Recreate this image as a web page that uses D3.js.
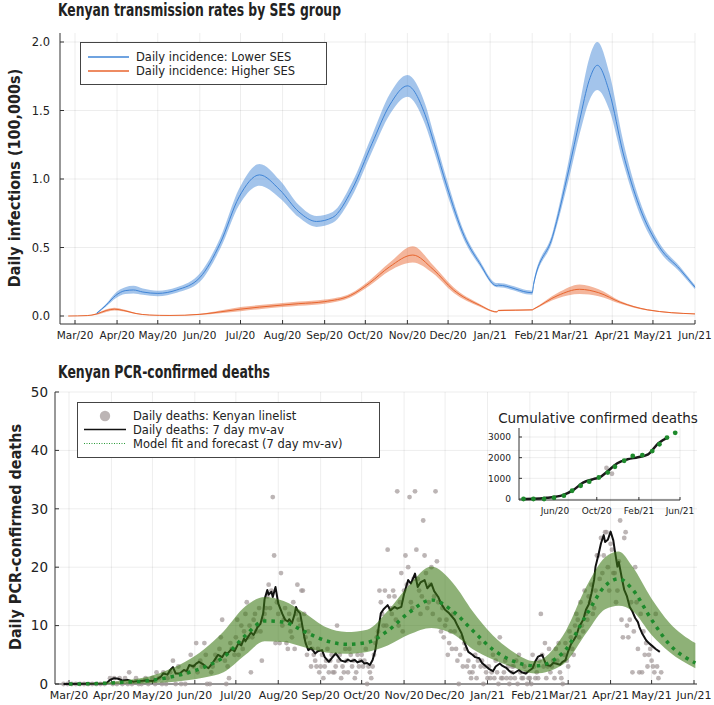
<!DOCTYPE html>
<html>
<head>
<meta charset="utf-8">
<script src="https://cdn.jsdelivr.net/npm/d3@7"></script>
<style>
body { margin: 0; background: #fff; }
svg text { font-family: "DejaVu Sans", sans-serif; fill: #222; }
.ttl { font-family: "Liberation Sans Narrow", "DejaVu Sans Condensed", "Roboto Condensed", sans-serif; font-weight: bold; font-stretch: condensed; }
</style>
</head>
<body>
<svg id="chart" width="714" height="705"></svg>
<script>
// ---- top panel: daily incidence by SES group (100,000s)
const lowDates = ["2020-03-17","2020-03-24","2020-03-31","2020-04-07","2020-04-13","2020-04-20","2020-05-01","2020-05-15","2020-06-01","2020-06-16","2020-06-30","2020-07-15","2020-07-30","2020-08-13","2020-08-26","2020-09-07","2020-09-21","2020-10-06","2020-10-19","2020-11-01","2020-11-14","2020-11-21","2020-11-30","2020-12-13","2020-12-24","2021-01-06","2021-01-07","2021-02-01","2021-02-02","2021-02-16","2021-02-28","2021-03-08","2021-03-15","2021-03-21","2021-03-30","2021-04-09","2021-04-21","2021-05-06","2021-05-21","2021-06-01"];
const lowMid = [0.02,0.08,0.15,0.185,0.19,0.175,0.165,0.19,0.28,0.53,0.87,1.03,0.92,0.76,0.69,0.72,0.92,1.26,1.54,1.68,1.47,1.25,0.95,0.58,0.39,0.22,0.225,0.17,0.23,0.58,1.07,1.43,1.72,1.83,1.63,1.19,0.80,0.50,0.34,0.21];
const lowLo  = [0.015,0.07,0.13,0.16,0.165,0.155,0.145,0.17,0.25,0.49,0.81,0.95,0.86,0.72,0.65,0.68,0.87,1.20,1.47,1.60,1.40,1.19,0.90,0.55,0.37,0.21,0.21,0.155,0.21,0.55,1.00,1.33,1.57,1.65,1.50,1.12,0.75,0.47,0.32,0.195];
const lowHi  = [0.025,0.09,0.17,0.21,0.22,0.20,0.185,0.21,0.31,0.57,0.93,1.11,0.99,0.81,0.73,0.76,0.97,1.32,1.62,1.76,1.55,1.31,1.00,0.61,0.41,0.24,0.24,0.185,0.25,0.61,1.14,1.55,1.88,2.00,1.77,1.28,0.85,0.53,0.36,0.225];

const highDates = ["2020-02-25","2020-03-10","2020-03-17","2020-03-24","2020-03-30","2020-04-06","2020-04-15","2020-04-25","2020-05-10","2020-06-01","2020-06-16","2020-07-01","2020-07-15","2020-08-01","2020-08-13","2020-09-01","2020-09-20","2020-10-04","2020-10-19","2020-11-05","2020-11-20","2020-12-05","2020-12-24","2021-01-06","2021-01-07","2021-02-01","2021-02-02","2021-02-20","2021-03-08","2021-03-22","2021-04-07","2021-04-27","2021-06-01"];
const highMid = [0,0.003,0.015,0.04,0.05,0.04,0.018,0.007,0.004,0.012,0.03,0.05,0.065,0.08,0.09,0.105,0.15,0.24,0.36,0.445,0.34,0.19,0.08,0.03,0.04,0.045,0.05,0.15,0.195,0.17,0.10,0.045,0.015];
const highLo  = [0,0.002,0.01,0.03,0.04,0.033,0.014,0.005,0.003,0.008,0.02,0.035,0.05,0.065,0.075,0.09,0.135,0.22,0.33,0.39,0.31,0.17,0.07,0.025,0.035,0.04,0.045,0.13,0.16,0.145,0.09,0.04,0.012];
const highHi  = [0,0.004,0.02,0.05,0.06,0.047,0.022,0.009,0.005,0.016,0.04,0.065,0.08,0.095,0.105,0.12,0.165,0.26,0.39,0.51,0.37,0.21,0.09,0.035,0.045,0.05,0.055,0.17,0.23,0.195,0.11,0.05,0.018];

const topYTicks = [0, 0.5, 1.0, 1.5, 2.0];

// ---- bottom panel: PCR-confirmed deaths (linelist points)
const deathDates = ["2020-02-26","2020-02-29","2020-03-03","2020-03-06","2020-03-09","2020-03-12","2020-03-15","2020-03-18","2020-03-21","2020-03-24","2020-03-27","2020-03-31","2020-04-02","2020-04-03","2020-04-05","2020-04-07","2020-04-09","2020-04-11","2020-04-13","2020-04-14","2020-04-16","2020-04-19","2020-04-21","2020-04-23","2020-04-26","2020-04-28","2020-05-01","2020-05-03","2020-05-04","2020-05-06","2020-05-08","2020-05-09","2020-05-11","2020-05-12","2020-05-14","2020-05-16","2020-05-18","2020-05-20","2020-05-22","2020-05-25","2020-05-27","2020-05-29","2020-05-31","2020-06-02","2020-06-03","2020-06-05","2020-06-08","2020-06-10","2020-06-12","2020-06-14","2020-06-16","2020-06-19","2020-06-21","2020-06-23","2020-06-24","2020-06-26","2020-06-28","2020-07-01","2020-07-03","2020-07-05","2020-07-07","2020-07-09","2020-07-10","2020-07-12","2020-07-14","2020-07-16","2020-07-18","2020-07-20","2020-07-22","2020-07-24","2020-07-25","2020-07-27","2020-07-28","2020-07-29","2020-07-30","2020-07-31","2020-08-02","2020-08-03","2020-08-05","2020-08-07","2020-08-08","2020-08-10","2020-08-12","2020-08-13","2020-08-14","2020-08-15","2020-08-17","2020-08-18","2020-08-19","2020-08-21","2020-08-22","2020-08-24","2020-08-26","2020-08-28","2020-08-29","2020-08-31","2020-09-02","2020-09-04","2020-09-06","2020-09-08","2020-09-10","2020-09-11","2020-09-13","2020-09-15","2020-09-16","2020-09-18","2020-09-20","2020-09-22","2020-09-24","2020-09-26","2020-09-28","2020-09-30","2020-10-02","2020-10-04","2020-10-05","2020-10-07","2020-10-09","2020-10-11","2020-10-13","2020-10-14","2020-10-16","2020-10-18","2020-10-19","2020-10-20","2020-10-21","2020-10-22","2020-10-24","2020-10-26","2020-10-27","2020-10-29","2020-10-31","2020-11-02","2020-11-03","2020-11-05","2020-11-07","2020-11-08","2020-11-09","2020-11-10","2020-11-12","2020-11-13","2020-11-15","2020-11-17","2020-11-19","2020-11-21","2020-11-23","2020-11-24","2020-11-25","2020-11-27","2020-11-29","2020-12-01","2020-12-03","2020-12-05","2020-12-07","2020-12-09","2020-12-11","2020-12-13","2020-12-15","2020-12-17","2020-12-18","2020-12-20","2020-12-21","2020-12-23","2020-12-26","2020-12-27","2020-12-28","2020-12-31","2021-01-01","2021-01-02","2021-01-03","2021-01-05","2021-01-06","2021-01-08","2021-01-10","2021-01-11","2021-01-12","2021-01-14","2021-01-15","2021-01-17","2021-01-18","2021-01-19","2021-01-20","2021-01-21","2021-01-23","2021-01-24","2021-01-26","2021-01-27","2021-01-28","2021-01-30","2021-01-31","2021-02-01","2021-02-03","2021-02-05","2021-02-07","2021-02-09","2021-02-10","2021-02-11","2021-02-13","2021-02-14","2021-02-16","2021-02-18","2021-02-20","2021-02-22","2021-02-24","2021-02-25","2021-02-26","2021-02-27","2021-02-28","2021-03-02","2021-03-04","2021-03-06","2021-03-08","2021-03-10","2021-03-12","2021-03-14","2021-03-16","2021-03-18","2021-03-20","2021-03-22","2021-03-23","2021-03-24","2021-03-25","2021-03-26","2021-03-27","2021-03-28","2021-03-29","2021-03-29","2021-03-30","2021-04-01","2021-04-02","2021-04-02","2021-04-03","2021-04-04","2021-04-06","2021-04-08","2021-04-09","2021-04-10","2021-04-11","2021-04-12","2021-04-14","2021-04-15","2021-04-17","2021-04-19","2021-04-20","2021-04-22","2021-04-24","2021-04-25","2021-04-27","2021-04-29","2021-05-01","2021-05-02","2021-05-03","2021-05-04","2021-05-05","2021-05-06","2021-05-08"];
const deathCounts = [0,0,0,0,0,0,0,0,0,0,0,1,0,1,0,1,0,1,0,2,0,1,0,0,1,0,1,0,2,1,0,2,0,1,2,4,0,3,0,0,2,5,3,7,2,4,7,0,0,3,5,6,11,4,0,1,6,8,5,10,9,14,8,2,11,9,13,4,12,15,17,16,32,22,7,14,7,19,11,7,6,9,14,6,12,17,10,16,16,8,5,7,6,4,3,2,5,3,6,4,2,2,10,5,1,2,4,6,3,1,5,4,3,6,0,2,3,7,9,16,12,16,10,23,15,13,16,11,33,14,9,22,17,32,13,18,33,23,16,12,28,19,14,20,15,33,21,11,13,10,5,9,12,6,0,8,7,3,4,1,2,5,7,3,4,2,1,3,1,5,1,2,8,1,1,4,1,0,1,3,3,1,0,5,1,1,3,0,1,1,5,1,1,12,5,3,1,3,2,4,6,7,1,0,5,7,4,9,6,10,11,14,9,12,15,17,13,22,22,18,25,19,22,26,26,37,20,24,23,36,19,19,16,28,11,8,25,26,8,11,2,20,14,2,2,9,7,5,4,3,2,12,3,1,2];
const moreDeathDates = ["2020-06-06","2020-06-09","2020-06-13","2020-06-17","2020-06-20","2020-06-25","2020-06-27","2020-06-30","2020-07-02","2020-07-04","2020-07-06","2020-07-08","2020-07-11","2020-07-13","2020-07-15","2020-07-17","2020-07-19","2020-07-21","2020-07-23","2020-07-26","2020-08-01","2020-08-04","2020-08-06","2020-08-09","2020-08-11","2020-08-16","2020-08-20","2020-08-23","2020-08-25","2020-08-27","2020-08-30","2020-09-01","2020-09-03","2020-09-05","2020-09-07","2020-09-09","2020-09-12","2020-09-14","2020-09-17","2020-09-19","2020-09-21","2020-09-23","2020-09-25","2020-09-27","2020-09-29","2020-10-01","2020-10-03","2020-10-06","2020-10-08","2020-10-10","2020-10-12","2020-10-15","2020-10-17","2020-10-23","2020-10-25","2020-10-28","2020-10-30","2020-11-01","2020-11-04","2020-11-06","2020-11-11","2020-11-14","2020-11-16","2020-11-18","2020-11-20","2020-11-22","2020-11-26","2020-11-28","2020-11-30","2020-12-02","2020-12-04","2020-12-06","2020-12-08","2020-12-10","2020-12-12","2020-12-14","2020-12-16","2020-12-19","2020-12-22","2020-12-24","2020-12-25","2020-12-29","2020-12-30","2021-01-04","2021-01-07","2021-01-09","2021-01-13","2021-01-16","2021-01-19","2021-01-22","2021-01-25","2021-01-29","2021-02-02","2021-02-04","2021-02-06","2021-02-08","2021-02-12","2021-02-15","2021-02-17","2021-02-19","2021-02-21","2021-02-23","2021-03-01","2021-03-03","2021-03-05","2021-03-07","2021-03-09","2021-03-11","2021-03-13","2021-03-15","2021-03-17","2021-03-19","2021-03-21","2021-03-31","2021-04-05","2021-04-07","2021-04-13","2021-04-16","2021-04-18","2021-04-21","2021-04-23","2021-04-26","2021-04-28","2021-04-30"];
const moreDeathCounts = [3,5,2,4,8,3,7,5,11,7,6,12,10,8,12,10,9,11,13,13,12,10,13,12,8,11,12,9,3,5,6,3,1,4,2,5,3,4,3,6,2,5,4,2,3,5,4,3,1,5,8,14,10,12,15,10,19,16,20,14,18,15,22,13,17,12,14,9,8,11,7,6,9,4,5,3,6,2,3,1,4,0,3,2,4,0,2,3,2,4,2,2,0,3,2,4,7,6,3,1,4,2,3,8,5,12,8,10,16,11,14,12,16,16,14,21,10,14,9,6,12,5,3,6];

// 7 day moving average of the linelist
const avgDates = ["2020-02-26","2020-03-28","2020-03-31","2020-04-03","2020-04-06","2020-04-09","2020-04-13","2020-04-17","2020-04-21","2020-04-26","2020-05-01","2020-05-04","2020-05-07","2020-05-09","2020-05-12","2020-05-14","2020-05-16","2020-05-18","2020-05-21","2020-05-24","2020-05-26","2020-05-28","2020-05-31","2020-06-02","2020-06-04","2020-06-07","2020-06-09","2020-06-11","2020-06-14","2020-06-16","2020-06-18","2020-06-21","2020-06-23","2020-06-25","2020-06-28","2020-06-30","2020-07-03","2020-07-05","2020-07-07","2020-07-08","2020-07-10","2020-07-12","2020-07-14","2020-07-17","2020-07-19","2020-07-21","2020-07-22","2020-07-24","2020-07-25","2020-07-27","2020-07-28","2020-07-30","2020-08-01","2020-08-03","2020-08-04","2020-08-06","2020-08-08","2020-08-09","2020-08-11","2020-08-13","2020-08-14","2020-08-15","2020-08-17","2020-08-18","2020-08-20","2020-08-21","2020-08-23","2020-08-25","2020-08-28","2020-08-30","2020-09-02","2020-09-04","2020-09-07","2020-09-09","2020-09-12","2020-09-14","2020-09-16","2020-09-19","2020-09-21","2020-09-23","2020-09-26","2020-09-28","2020-10-01","2020-10-03","2020-10-05","2020-10-07","2020-10-09","2020-10-11","2020-10-13","2020-10-15","2020-10-17","2020-10-20","2020-10-22","2020-10-25","2020-10-27","2020-10-30","2020-11-01","2020-11-04","2020-11-06","2020-11-09","2020-11-11","2020-11-13","2020-11-16","2020-11-18","2020-11-21","2020-11-23","2020-11-26","2020-11-28","2020-12-01","2020-12-04","2020-12-08","2020-12-10","2020-12-13","2020-12-15","2020-12-18","2020-12-21","2020-12-23","2020-12-26","2020-12-28","2020-12-31","2021-01-02","2021-01-05","2021-01-07","2021-01-10","2021-01-12","2021-01-15","2021-01-17","2021-01-20","2021-01-22","2021-01-24","2021-01-26","2021-01-29","2021-01-31","2021-02-03","2021-02-05","2021-02-07","2021-02-10","2021-02-13","2021-02-16","2021-02-18","2021-02-20","2021-02-23","2021-02-25","2021-02-27","2021-03-01","2021-03-03","2021-03-05","2021-03-07","2021-03-09","2021-03-12","2021-03-14","2021-03-16","2021-03-18","2021-03-20","2021-03-21","2021-03-23","2021-03-25","2021-03-27","2021-03-28","2021-03-30","2021-04-01","2021-04-03","2021-04-04","2021-04-06","2021-04-07","2021-04-09","2021-04-11","2021-04-13","2021-04-15","2021-04-17","2021-04-19","2021-04-21","2021-04-22","2021-04-24","2021-04-27","2021-04-29","2021-05-02","2021-05-04","2021-05-07"];
const avgValues = [0,0.1,0.7,1.0,0.9,0.6,0.7,0.4,0.5,0.6,0.5,0.8,1.2,1.8,1.6,2.4,2.9,1.8,1.8,2.4,2.2,3.25,3.0,3.5,3.8,3.4,3.0,2.7,3.6,4.3,5.0,4.6,5.4,5.25,6.0,5.6,7.0,6.6,7.8,7.3,8.1,8.8,8.4,9.8,10.3,12.1,14.5,16.1,15.3,15.8,14.9,16.6,13.8,12.6,12.0,11.0,10.7,11.1,10.4,12.0,13.2,12.6,12.1,10.8,8.1,7.0,5.8,6.2,5.25,5.6,5.8,4.6,3.8,4.4,5.25,4.6,4.0,3.8,4.2,3.9,4.1,3.7,4.0,3.5,3.6,3.25,4.1,5.8,9.0,12.1,12.8,13.5,12.6,13.2,12.9,13.2,15.4,17.8,17.2,18.9,16.6,17.4,17.8,16.4,17.2,15.9,14.9,13.8,12.7,12.1,11.0,10.0,8.7,7.2,5.5,5.0,4.6,4.4,3.6,3.0,2.6,2.2,3.0,3.5,3.1,2.7,2.2,1.8,2.1,2.4,2.0,1.8,2.2,2.7,3.9,4.7,5.0,3.25,3.1,3.6,3.5,3.3,3.8,4.1,5.6,6.8,7.5,8.3,9.8,11.0,12.7,13.6,15.5,17.9,20.1,22.0,24.1,25.5,24.3,24.7,26.1,24.6,23.0,20.1,20.9,18.4,16.1,15.0,13.2,12.4,11.3,10.6,9.8,8.7,7.5,7.0,6.4,6.0,5.5];

// model fit and forecast (7 day mv-av) with credible band
const modelDates = ["2020-03-01","2020-03-25","2020-04-10","2020-04-25","2020-05-10","2020-05-25","2020-06-08","2020-06-22","2020-07-08","2020-07-22","2020-08-05","2020-08-20","2020-09-05","2020-09-20","2020-10-05","2020-10-20","2020-11-05","2020-11-21","2020-12-07","2020-12-21","2021-01-05","2021-01-18","2021-02-05","2021-02-25","2021-03-15","2021-03-28","2021-04-07","2021-04-17","2021-05-01","2021-05-14","2021-06-02"];
const modelLo  = [0,0,0.05,0.1,0.25,0.6,1.1,2.0,5.0,7.3,7.2,6.3,5.4,5.2,5.5,6.6,8.5,9.6,8.5,6.0,4.2,3.0,1.8,3.3,9.0,12.8,13.4,12.5,8.4,5.5,2.7];
const modelMid = [0,0.1,0.3,0.5,1.0,1.8,2.9,4.6,8.3,10.8,10.6,9.0,7.4,6.8,7.1,9.1,12.3,14.4,12.4,9.2,5.9,4.1,3.1,5.3,12.1,16.8,18.0,16.2,11.0,6.8,3.6];
const modelHi  = [0,0.2,0.6,1.1,2.2,3.8,6.0,9.0,13.3,14.9,14.2,12.2,9.7,8.9,9.3,12.5,17.0,20.1,17.2,12.5,8.3,5.8,3.9,8.2,17.0,21.7,22.7,20.1,14.6,10.5,7.0];

const botYTicks = [0, 10, 20, 30, 40, 50];

// ---- inset: cumulative confirmed deaths
const cumDates = ["2020-02-26","2020-04-01","2020-05-08","2020-06-24","2020-07-24","2020-08-22","2020-09-21","2020-10-11","2020-10-31","2020-11-30","2020-12-30","2021-01-29","2021-02-28","2021-03-30","2021-04-29"];
const cumValues = [0,10,60,190,430,790,960,1060,1320,1730,1920,2020,2160,2700,2990];
const cumModelDates = ["2020-03-01","2020-03-30","2020-04-30","2020-05-29","2020-06-27","2020-07-21","2020-08-15","2020-09-09","2020-10-07","2020-11-02","2020-11-23","2020-12-20","2021-01-14","2021-02-11","2021-03-12","2021-04-02","2021-04-24","2021-05-18"];
const cumModelValues = [0,0,0,60,160,400,640,840,1040,1280,1560,1850,2080,2120,2320,2650,2970,3200];
const insetYTicks = [0, 1000, 2000, 3000];
const insetXTicks = ["2020-06-01","2020-10-01","2021-02-01","2021-06-01"];

const parse = d3.timeParse("%Y-%m-%d");
const fmtMonth = d3.timeFormat("%b/%y");
const monthTicks = d3.timeMonth.range(parse("2020-03-01"), parse("2021-06-02"));

const blue = "#3f84d6", orange = "#e8652e";
const gridCol = "#000", gridOp = 0.07;

const svg = d3.select("#chart");
svg.append("rect").attr("width", 714).attr("height", 705).attr("fill", "#fff");

// helper: grid + axis frame with inward ticks
function frame(g, x, y, box, yTicks, yFmt, xFont, yFont, yLabelX) {
    monthTicks.forEach(t => {
        g.append("line").attr("x1", x(t)).attr("x2", x(t)).attr("y1", box.top).attr("y2", box.bottom)
            .attr("stroke", gridCol).attr("stroke-opacity", gridOp);
    });
    yTicks.forEach(v => {
        g.append("line").attr("x1", box.left).attr("x2", box.right).attr("y1", y(v)).attr("y2", y(v))
            .attr("stroke", gridCol).attr("stroke-opacity", gridOp);
    });
    g.append("line").attr("x1", box.left).attr("x2", box.left).attr("y1", box.top).attr("y2", box.bottom).attr("stroke", "#333");
    g.append("line").attr("x1", box.left).attr("x2", box.right).attr("y1", box.bottom).attr("y2", box.bottom).attr("stroke", "#333");
    monthTicks.forEach(t => {
        g.append("line").attr("x1", x(t)).attr("x2", x(t)).attr("y1", box.bottom).attr("y2", box.bottom - 4).attr("stroke", "#333");
        g.append("text").attr("x", x(t)).attr("y", box.bottom + 15).attr("text-anchor", "middle")
            .style("font-size", xFont + "px").text(fmtMonth(t));
    });
    yTicks.forEach(v => {
        g.append("line").attr("x1", box.left).attr("x2", box.left + 4).attr("y1", y(v)).attr("y2", y(v)).attr("stroke", "#333");
        g.append("text").attr("x", yLabelX).attr("y", y(v)).attr("dy", "0.36em").attr("text-anchor", "end")
            .style("font-size", yFont + "px").text(yFmt(v));
    });
}

// ===== TOP PANEL =====
const xTop = d3.scaleTime().domain([parse("2020-03-01"), parse("2021-06-01")]).range([75, 695]);
const yTop = d3.scaleLinear().domain([0, 2]).range([316, 42]);
const topBox = {left: 60, right: 695, top: 33, bottom: 324};
const gTop = svg.append("g");
frame(gTop, xTop, yTop, topBox, topYTicks, d3.format(".1f"), 10.5, 11.5, 50);

function series(dates, mid, lo, hi) {
    return dates.map((d, i) => ({date: parse(d), mid: mid[i], lo: lo[i], hi: hi[i]}));
}
const lowData = series(lowDates, lowMid, lowLo, lowHi);
const highData = series(highDates, highMid, highLo, highHi);

const topArea = d3.area().x(d => xTop(d.date)).y0(d => yTop(d.lo)).y1(d => yTop(d.hi)).curve(d3.curveMonotoneX);
const topLine = d3.line().x(d => xTop(d.date)).y(d => yTop(d.mid)).curve(d3.curveMonotoneX);

[[highData, orange], [lowData, blue]].forEach(([data, col]) => {
    gTop.append("path").datum(data).attr("d", topArea).attr("fill", col).attr("fill-opacity", 0.48);
    gTop.append("path").datum(data).attr("d", topLine).attr("fill", "none").attr("stroke", col).attr("stroke-width", 1);
});

// condensed bold titles: squeeze to the measured width
gTop.append("text").attr("class", "ttl").attr("x", 58).attr("y", 16).style("font-size", "17px")
    .attr("textLength", 283).attr("lengthAdjust", "spacingAndGlyphs").text("Kenyan transmission rates by SES group");
gTop.append("text").attr("class", "ttl").attr("transform", "translate(20,178) rotate(-90)").attr("text-anchor", "middle")
    .style("font-size", "16px").text("Daily infections (100,000s)");

// top legend
const legTop = gTop.append("g");
legTop.append("rect").attr("x", 80.5).attr("y", 42.5).attr("width", 246).attr("height", 42).attr("fill", "#fff").attr("stroke", "#444");
[["Daily incidence: Lower SES", blue, 57], ["Daily incidence: Higher SES", orange, 71]].forEach(([t, c, yy]) => {
    legTop.append("line").attr("x1", 88).attr("x2", 129).attr("y1", yy).attr("y2", yy).attr("stroke", c).attr("stroke-width", 1.5);
    legTop.append("text").attr("x", 136).attr("y", yy).attr("dy", "0.36em").style("font-size", "11.5px").text(t);
});

// ===== BOTTOM PANEL =====
const xBot = d3.scaleTime().domain([parse("2020-03-01"), parse("2021-06-01")]).range([69, 694]);
const yBot = d3.scaleLinear().domain([0, 50]).range([684, 392]);
const botBox = {left: 55, right: 697, top: 392, bottom: 684};
const gBot = svg.append("g");
frame(gBot, xBot, yBot, botBox, botYTicks, d3.format("d"), 11, 13.5, 48);

gBot.append("text").attr("class", "ttl").attr("x", 58).attr("y", 378).style("font-size", "17px")
    .attr("textLength", 212).attr("lengthAdjust", "spacingAndGlyphs").text("Kenyan PCR-confirmed deaths");
gBot.append("text").attr("class", "ttl").attr("transform", "translate(21,537) rotate(-90)").attr("text-anchor", "middle")
    .style("font-size", "16px").text("Daily PCR-confirmed deaths");

const deaths = deathDates.map((d, i) => ({date: parse(d), v: deathCounts[i]}))
    .concat(moreDeathDates.map((d, i) => ({date: parse(d), v: moreDeathCounts[i]})));
gBot.append("g").selectAll("circle").data(deaths).enter().append("circle")
    .attr("cx", d => xBot(d.date)).attr("cy", d => yBot(d.v)).attr("r", 2.4)
    .attr("fill", "rgb(160,150,150)").attr("fill-opacity", 0.7);

const avg = avgDates.map((d, i) => ({date: parse(d), v: avgValues[i]}));
gBot.append("path").datum(avg)
    .attr("d", d3.line().x(d => xBot(d.date)).y(d => yBot(d.v)))
    .attr("fill", "none").attr("stroke", "#111").attr("stroke-width", 2).attr("stroke-linejoin", "round");

const model = series(modelDates, modelMid, modelLo, modelHi);
gBot.append("path").datum(model)
    .attr("d", d3.area().x(d => xBot(d.date)).y0(d => yBot(d.lo)).y1(d => yBot(d.hi)).curve(d3.curveMonotoneX))
    .attr("fill", "rgb(60,120,20)").attr("fill-opacity", 0.58);
gBot.append("path").datum(model)
    .attr("d", d3.line().x(d => xBot(d.date)).y(d => yBot(d.mid)).curve(d3.curveMonotoneX))
    .attr("fill", "none").attr("stroke", "#1e8a2c").attr("stroke-width", 3.5).attr("stroke-dasharray", "3.5 5");

// bottom legend
const legBot = gBot.append("g");
legBot.append("rect").attr("x", 77.5).attr("y", 402.5).attr("width", 302).attr("height", 55).attr("fill", "#fff").attr("stroke", "#444");
legBot.append("circle").attr("cx", 105).attr("cy", 416).attr("r", 5.2).attr("fill", "rgb(160,150,150)").attr("fill-opacity", 0.7);
legBot.append("line").attr("x1", 84).attr("x2", 126).attr("y1", 429.5).attr("y2", 429.5).attr("stroke", "#111").attr("stroke-width", 1.5);
legBot.append("line").attr("x1", 84).attr("x2", 126).attr("y1", 443.5).attr("y2", 443.5).attr("stroke", "#2a9a38").attr("stroke-width", 1.2).attr("stroke-dasharray", "1 1.5");
[["Daily deaths: Kenyan linelist", 416], ["Daily deaths: 7 day mv-av", 429.5], ["Model fit and forecast (7 day mv-av)", 443.5]].forEach(([t, yy]) => {
    legBot.append("text").attr("x", 133).attr("y", yy).attr("dy", "0.36em").style("font-size", "11.5px").text(t);
});

// ===== INSET =====
const xIn = d3.scaleTime().domain([parse("2020-06-01"), parse("2021-06-01")]).range([555, 680]);
const yIn = d3.scaleLinear().domain([0, 3000]).range([499, 437]);
const gIn = svg.append("g");
gIn.append("text").attr("x", 598).attr("y", 423).attr("text-anchor", "middle").style("font-size", "13.5px").text("Cumulative confirmed deaths");
insetXTicks.forEach(s => {
    const t = parse(s);
    gIn.append("line").attr("x1", xIn(t)).attr("x2", xIn(t)).attr("y1", 428).attr("y2", 500).attr("stroke", gridCol).attr("stroke-opacity", gridOp);
    gIn.append("line").attr("x1", xIn(t)).attr("x2", xIn(t)).attr("y1", 500).attr("y2", 497).attr("stroke", "#333");
    gIn.append("text").attr("x", xIn(t)).attr("y", 514).attr("text-anchor", "middle").style("font-size", "9px").text(fmtMonth(t));
});
insetYTicks.forEach(v => {
    gIn.append("line").attr("x1", 519).attr("x2", 680).attr("y1", yIn(v)).attr("y2", yIn(v)).attr("stroke", gridCol).attr("stroke-opacity", gridOp);
    gIn.append("line").attr("x1", 519).attr("x2", 522).attr("y1", yIn(v)).attr("y2", yIn(v)).attr("stroke", "#333");
    gIn.append("text").attr("x", 511).attr("y", yIn(v)).attr("dy", "0.36em").attr("text-anchor", "end").style("font-size", "9px").text(v);
});
gIn.append("line").attr("x1", 519).attr("x2", 519).attr("y1", 428).attr("y2", 500).attr("stroke", "#333");
gIn.append("line").attr("x1", 519).attr("x2", 680).attr("y1", 500).attr("y2", 500).attr("stroke", "#333");

const cum = cumDates.map((d, i) => ({date: parse(d), v: cumValues[i]}));
gIn.append("path").datum(cum)
    .attr("d", d3.line().x(d => xIn(d.date)).y(d => yIn(d.v)).curve(d3.curveMonotoneX))
    .attr("fill", "none").attr("stroke", "#1a1a1a").attr("stroke-width", 2.5);
const cumModel = cumModelDates.map((d, i) => ({date: parse(d), v: cumModelValues[i]}));
gIn.selectAll(".cm").data(cumModel).enter().append("circle").attr("class", "cm")
    .attr("cx", d => xIn(d.date)).attr("cy", d => yIn(d.v)).attr("r", 2.4).attr("fill", "#1e8a2c");
</script>
</body>
</html>
